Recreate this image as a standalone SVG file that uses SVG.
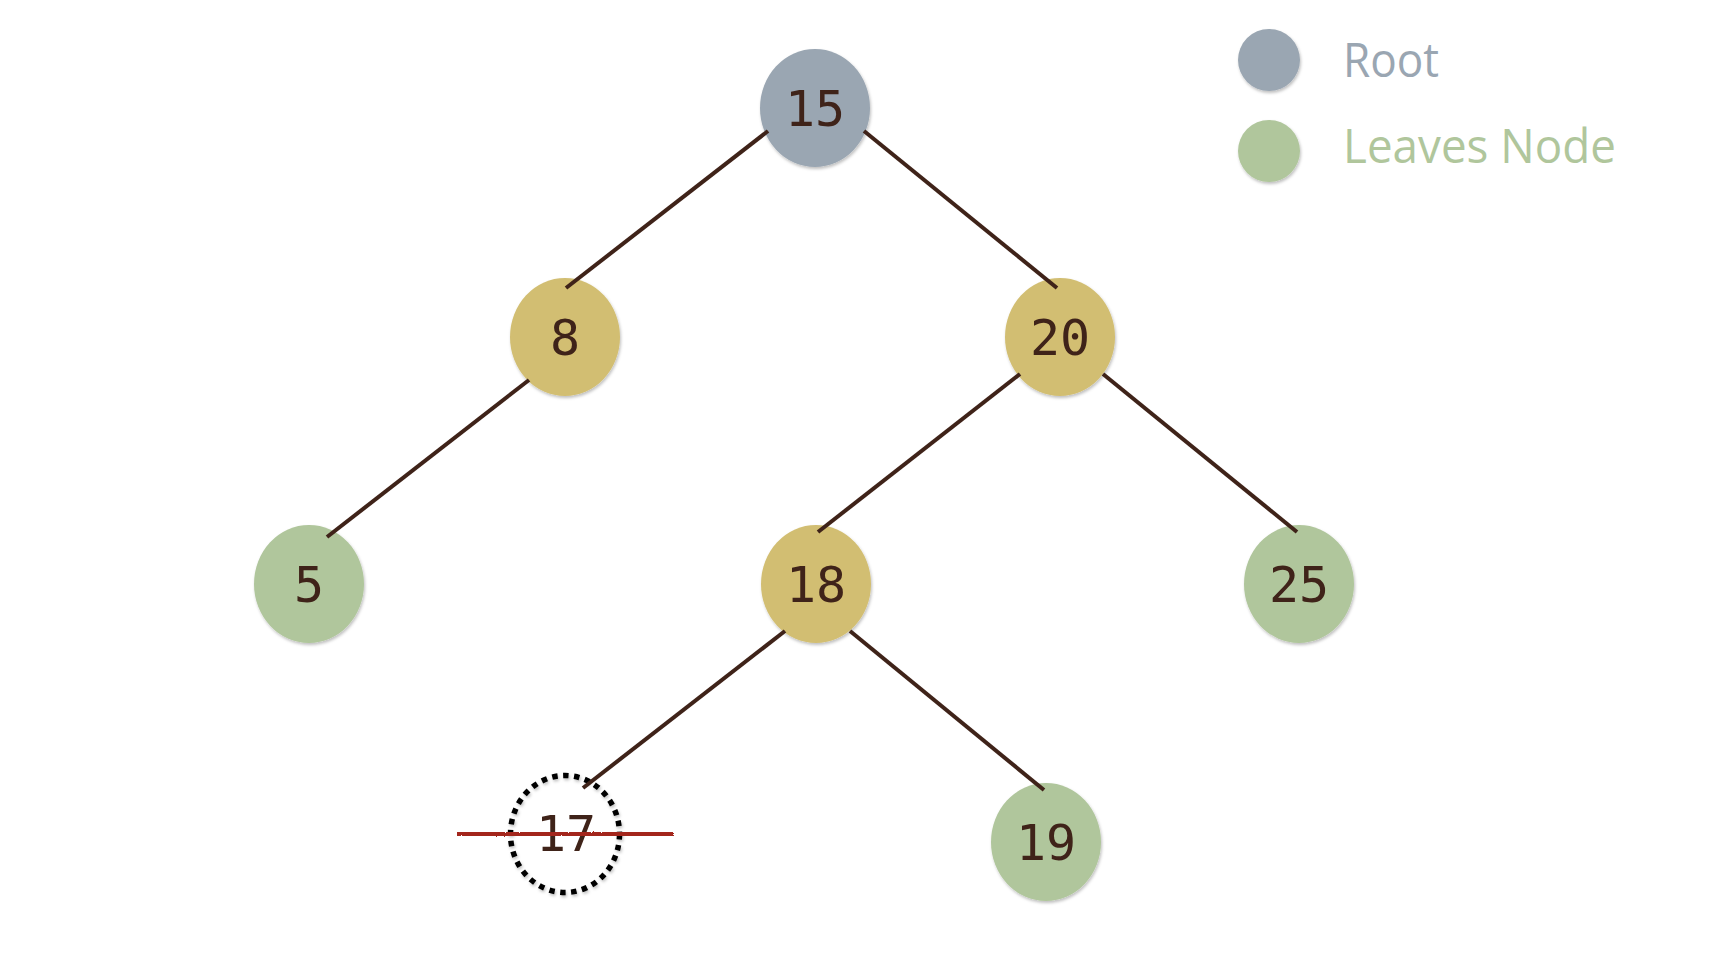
<svg xmlns="http://www.w3.org/2000/svg" width="1736" height="964" viewBox="0 0 1736 964">
<defs>
<filter id="sh" x="-20%" y="-20%" width="140%" height="140%">
<feDropShadow dx="1" dy="2" stdDeviation="1.5" flood-color="#000" flood-opacity="0.25"/>
</filter>
<filter id="rough" filterUnits="userSpaceOnUse" x="440" y="820" width="250" height="30">
<feTurbulence type="fractalNoise" baseFrequency="0.9" numOctaves="2" result="n"/>
<feDisplacementMap in="SourceGraphic" in2="n" scale="2"/>
</filter>
</defs>
<style>
.node{filter:url(#sh)}
.root{fill:#9aa6b2}
.inner{fill:#d2be72}
.leaf{fill:#b0c69c}
.num{font-family:"DejaVu Sans Mono","Liberation Mono",monospace;font-size:50px;fill:#3f2319;text-anchor:middle}
.edge{stroke:#3f2319;stroke-width:4;fill:none}
.legend{font-family:"Open Sans","Noto Sans","DejaVu Sans",sans-serif;font-size:48px}
</style>
<rect width="1736" height="964" fill="#fff"/>
<g id="node-15"><ellipse class="node root" cx="815" cy="108" rx="55" ry="59"/><text class="num" x="815" y="126">15</text></g>
<g id="node-8"><ellipse class="node inner" cx="565" cy="337" rx="55" ry="59"/><text class="num" x="565" y="355">8</text></g>
<g id="node-20"><ellipse class="node inner" cx="1060" cy="337" rx="55" ry="59"/><text class="num" x="1060" y="355">20</text></g>
<g id="node-5"><ellipse class="node leaf" cx="309" cy="584" rx="55" ry="59"/><text class="num" x="309" y="602">5</text></g>
<g id="node-18"><ellipse class="node inner" cx="816" cy="584" rx="55" ry="59"/><text class="num" x="816" y="602">18</text></g>
<g id="node-25"><ellipse class="node leaf" cx="1299" cy="584" rx="55" ry="59"/><text class="num" x="1299" y="602">25</text></g>
<g id="node-19"><ellipse class="node leaf" cx="1046" cy="842" rx="55" ry="59"/><text class="num" x="1046" y="860">19</text></g>
<g id="node-17">
<ellipse cx="565" cy="834" rx="54.5" ry="58.5" fill="none" stroke="#000" stroke-width="5.5" stroke-dasharray="5.5 5.5" filter="url(#sh)"/>
<text class="num" x="566" y="851">17</text>
<rect x="457" y="832" width="217" height="4" fill="#a3261c" filter="url(#rough)"/>
</g>
<g id="connectors">
<line class="edge" x1="768" y1="131" x2="566" y2="288"/>
<line class="edge" x1="864" y1="131" x2="1057" y2="288"/>
<line class="edge" x1="529" y1="380" x2="327" y2="537"/>
<line class="edge" x1="1020" y1="374" x2="818" y2="532"/>
<line class="edge" x1="1103" y1="374" x2="1297" y2="532"/>
<line class="edge" x1="785" y1="631" x2="583" y2="788"/>
<line class="edge" x1="850" y1="631" x2="1044" y2="790"/>
</g>
<g id="legend">
<circle class="node root" cx="1269" cy="60" r="31"/>
<text class="legend" x="1343" y="77" fill="#9aa6b2" textLength="96" lengthAdjust="spacingAndGlyphs">Root</text>
<circle class="node leaf" cx="1269" cy="151" r="31"/>
<text class="legend" x="1343" y="163" fill="#b0c69c" textLength="273" lengthAdjust="spacingAndGlyphs">Leaves Node</text>
</g>
</svg>
